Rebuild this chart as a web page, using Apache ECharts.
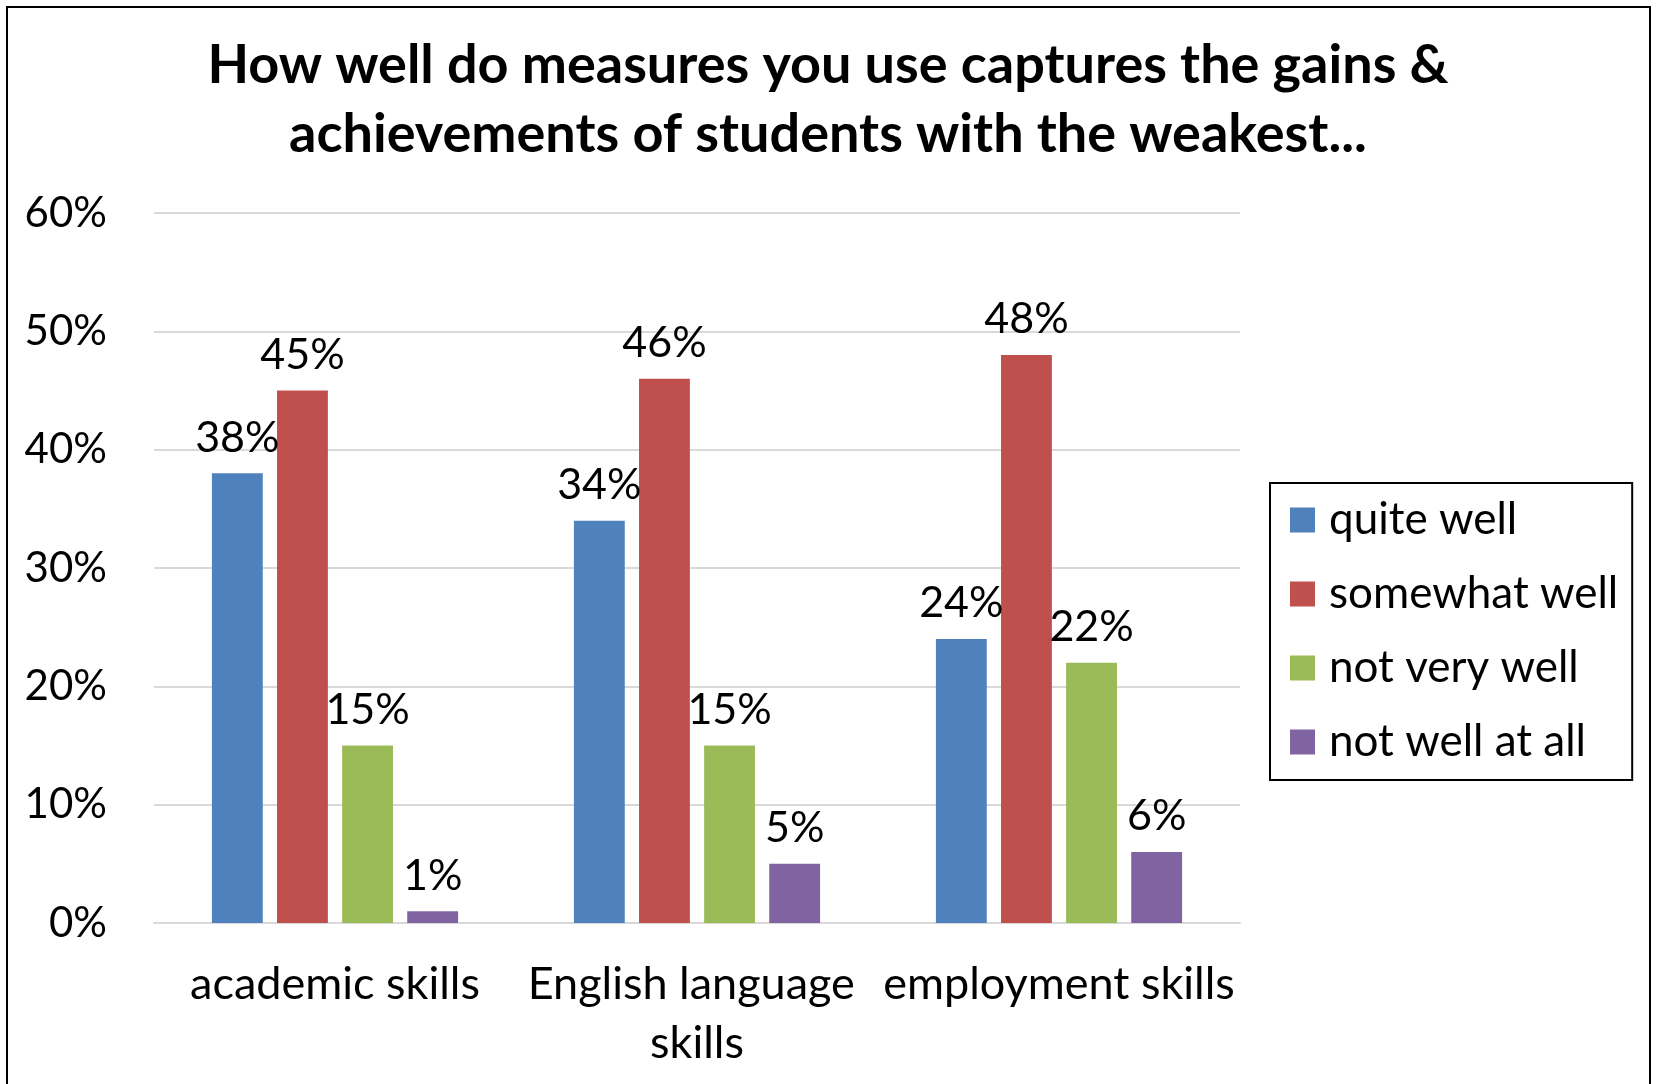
<!DOCTYPE html>
<html>
<head>
<meta charset="utf-8">
<script src="https://cdn.jsdelivr.net/npm/echarts@6/dist/echarts.min.js"></script>
<style>
html,body{margin:0;padding:0;background:#fff;}
#chart{width:1656px;height:1084px;}
</style>
</head>
<body>
<div id="chart"></div>
<script>
const titleText = 'How well do measures you use captures the gains &\nachievements of students with the weakest...';
const categories = ['academic skills', 'English language skills', 'employment skills'];
const seriesNames = ['quite well', 'somewhat well', 'not very well', 'not well at all'];
const quiteWell = [38, 34, 24];
const somewhatWell = [45, 46, 48];
const notVeryWell = [15, 15, 22];
const notWellAtAll = [1, 5, 6];
const yTicks = [0, 10, 20, 30, 40, 50, 60];
const colors = ['#4F81BD', '#C0504D', '#9BBB59', '#8064A2'];

const values = [quiteWell, somewhatWell, notVeryWell, notWellAtAll];
const FONT = 'Lato';

const chart = echarts.init(document.getElementById('chart'), null, {renderer: 'canvas'});
chart.setOption({
  backgroundColor: '#ffffff',
  animation: false,
  color: colors,
  textStyle: {fontFamily: FONT, color: '#000'},
  title: {
    text: titleText,
    left: 'center',
    top: 26,
    textStyle: {fontFamily: FONT, fontWeight: 'bold', fontSize: 54, lineHeight: 69, color: '#000'}
  },
  legend: {
    orient: 'vertical',
    left: 1270,
    top: 483,
    data: seriesNames,
    icon: 'rect',
    itemWidth: 25,
    itemHeight: 25,
    itemGap: 30,
    padding: [15, 14, 16, 20],
    borderColor: '#000',
    borderWidth: 2,
    textStyle: {fontFamily: FONT, fontSize: 44, lineHeight: 44, color: '#000', padding: [0, 0, 0, 9]}
  },
  grid: {left: 154, right: 416, top: 213, bottom: 161, containLabel: false},
  xAxis: {
    type: 'category',
    data: categories,
    axisLine: {lineStyle: {color: '#d9d9d9', width: 2}},
    axisTick: {show: false},
    axisLabel: {
      fontFamily: FONT, fontSize: 45, lineHeight: 59, color: '#000', margin: 32,
      interval: 0, width: 362, overflow: 'break'
    }
  },
  yAxis: {
    type: 'value',
    min: yTicks[0],
    max: yTicks[yTicks.length - 1],
    interval: yTicks[1] - yTicks[0],
    axisLine: {show: false},
    axisTick: {show: false},
    splitLine: {lineStyle: {color: '#d9d9d9', width: 2}},
    axisLabel: {fontFamily: FONT, fontSize: 42, color: '#000', margin: 47, formatter: '{value}%'}
  },
  series: seriesNames.map((name, i) => ({
    name: name,
    type: 'bar',
    data: values[i],
    barGap: '28%',
    barCategoryGap: '32%',
    itemStyle: {color: colors[i]},
    label: {
      show: true,
      position: 'top',
      distance: 14,
      formatter: '{c}%',
      fontFamily: FONT,
      fontSize: 43,
      color: '#000'
    }
  })),
  graphic: [{
    type: 'rect',
    shape: {x: 7, y: 7, width: 1643, height: 1100},
    style: {fill: 'none', stroke: '#000', lineWidth: 2},
    silent: true,
    z: 100
  }]
});
</script>
</body>
</html>
